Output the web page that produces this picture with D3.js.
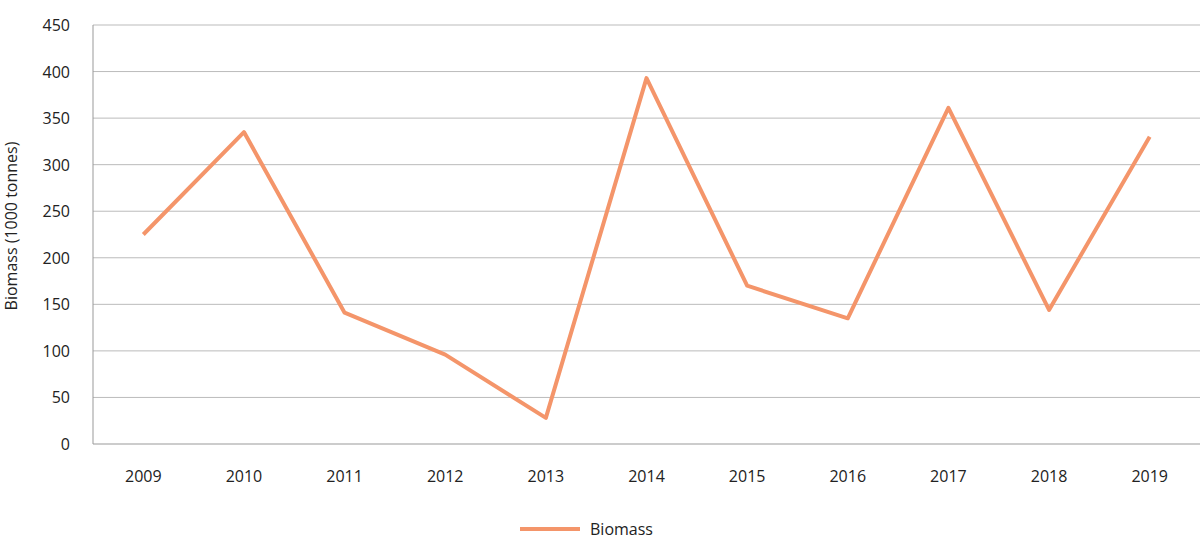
<!DOCTYPE html>
<html><head><meta charset="utf-8">
<script src="https://cdn.jsdelivr.net/npm/d3@7"></script>
<style>body{margin:0;background:#fff}text{font-family:"Open Sans",sans-serif;fill:#222}</style>
</head><body><svg id="c" width="1200" height="557"></svg>
<script>
const years=["2009","2010","2011","2012","2013","2014","2015","2016","2017","2018","2019"];
const biomass=[225,335,141,96,28,393,170,135,361,144,330];
const yTicks=[0,50,100,150,200,250,300,350,400,450];
const svg=d3.select("#c");
const x=d3.scaleBand().domain(years).range([93,1200]);
const y=d3.scaleLinear().domain([0,450]).range([444,25]);
svg.append("g").selectAll("line").data(yTicks).join("line")
 .attr("x1",93).attr("x2",1200).attr("y1",d=>y(d)).attr("y2",d=>y(d))
 .attr("stroke",d=>d===0?"#999":"#bbb").attr("stroke-width",1);
svg.append("line").attr("x1",93).attr("x2",93).attr("y1",y(450)).attr("y2",y(0)).attr("stroke","#999");
svg.append("g").selectAll("text").data(yTicks).join("text")
 .attr("x",70).attr("y",d=>y(d)+6).attr("text-anchor","end").attr("font-size",16).text(d=>d);
svg.append("g").selectAll("text").data(years).join("text")
 .attr("x",d=>x(d)+x.bandwidth()/2).attr("y",482).attr("text-anchor","middle").attr("font-size",16).text(d=>d);
svg.append("text").attr("transform","translate(17,226) rotate(-90)").attr("text-anchor","middle").attr("font-size",16).text("Biomass (1000 tonnes)");
const line=d3.line().x((d,i)=>x(years[i])+x.bandwidth()/2).y(d=>y(d));
svg.append("path").datum(biomass).attr("d",line).attr("fill","none").attr("stroke","#f4956a").attr("stroke-width",4).attr("stroke-linejoin","round");
svg.append("line").attr("x1",520).attr("x2",580).attr("y1",529).attr("y2",529).attr("stroke","#f4956a").attr("stroke-width",4);
svg.append("text").attr("x",590).attr("y",535).attr("font-size",16).text("Biomass");
</script></body></html>
